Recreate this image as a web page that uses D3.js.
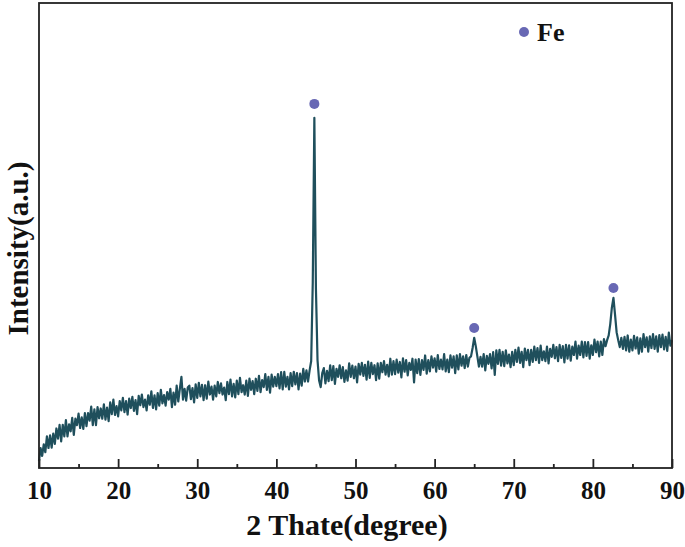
<!DOCTYPE html>
<html>
<head>
<meta charset="utf-8">
<script src="https://cdn.jsdelivr.net/npm/d3@7"></script>
<style>
  body { margin: 0; background: #fff; }
  text { font-family: "Liberation Serif", "Times New Roman", serif; font-weight: bold; fill: #111; }
</style>
</head>
<body>
<div id="chart"></div>
<script>
// XRD pattern, 2 theta from 10 to 90, step 0.2
const angleStart = 10, angleStep = 0.2;
const intensity = [
  15,43,26,51,34, 68,43,70,44,74, 52,85,63,93,57, 93,68,103,68,94, 79,108,71,106,92,
  117,86,109,84,118, 90,118,102,132,92, 126,92,131,107,128, 106,137,104,130,101, 141,116,147,114,133,
  111,144,124,151,120, 144,115,149,129,153, 123,146,116,155,135, 158,131,147,124,156, 136,165,129,156,126,
  161,134,168,139,157, 134,163,147,170,131, 162,136,177,143,170, 196,147,170,145,173, 177,148,172,141,180,
  151,183,154,179,146, 178,149,186,158,175, 147,177,154,185,161, 182,158,173,146,185, 159,190,154,181,152,
  188,159,194,163,178, 158,188,155,192,168, 187,159,192,166,198, 163,189,174,202,168, 196,162,201,175,196,
  176,202,171,206,169, 207,175,196,169,204, 176,207,180,204,169, 203,177,213,186,210, 186,210,230,400,753,
  385,232,188,174,204, 215,182,209,187,221, 189,219,181,213,196, 221,193,217,185,210, 188,225,196,220,193,
  218,184,224,201,226, 198,222,190,229,194, 226,202,221,189,225, 192,226,206,230,201, 222,197,235,201,230,
  202,233,205,228,195, 236,207,232,199,226, 211,235,184,233,204, 234,200,232,211,242, 203,232,208,240,216,
  236,207,243,213,233, 212,245,208,233,206, 242,216,240,204,242, 212,245,220,240,215, 243,218,237,240,258,
  280,262,240,218,239, 218,245,210,241,224, 245,214,249,200,253, 224,254,220,250,219, 253,225,244,217,250,
  221,254,228,259,226, 250,217,257,232,254, 221,254,228,261,232, 258,226,263,232,251, 230,261,225,256,239,
  265,236,260,230,265, 237,262,227,265,235, 264,231,261,243,272, 235,263,243,272,238, 271,241,271,235,264,
  243,276,249,272,240, 272,243,277,262,275, 285,310,345,366,330, 292,275,260,280,256, 282,253,285,250,276,
  253,284,257,281,246, 279,250,288,260,281, 250,283,258,288,256, 283,250,286,260,287, 255,282,252,291,263,
  275
];

// Fe peaks (marker positions)
const fePeakAngles = [44.8, 65.0, 82.6];
const fePeakMarks = [783, 301, 387];

const xTicks = [10, 20, 30, 40, 50, 60, 70, 80, 90];
const xMinorTicks = [15, 25, 35, 45, 55, 65, 75, 85];

const W = 685, H = 547;
const mL = 39, mR = 672, mT = 3, mB = 468;

const svg = d3.select('#chart').append('svg')
  .attr('width', W).attr('height', H);

const x = d3.scaleLinear().domain([10, 90]).range([mL, mR]);
const y = d3.scaleLinear().domain([0, 1000]).range([mB, mT]);

const data = intensity.map((v, i) => ({a: angleStart + i * angleStep, v: v}));

//선
const line = d3.line().x(d => x(d.a)).y(d => y(d.v));
svg.append('path')
  .datum(data)
  .attr('fill', 'none')
  .attr('stroke', '#1f4f5c')
  .attr('stroke-width', 2.2)
  .attr('stroke-linejoin', 'round')
  .attr('d', line);

// peak markers
svg.selectAll('circle.peak')
  .data(fePeakAngles)
  .enter().append('circle')
  .attr('class', 'peak')
  .attr('cx', d => x(d))
  .attr('cy', (d, i) => y(fePeakMarks[i]))
  .attr('r', 5)
  .attr('fill', '#6868b4');

// frame
svg.append('rect')
  .attr('x', mL).attr('y', mT)
  .attr('width', mR - mL).attr('height', mB - mT)
  .attr('fill', 'none').attr('stroke', '#222').attr('stroke-width', 1.8);

// x axis (ticks inward)
const xAxis = d3.axisBottom(x).tickValues(xTicks).tickSizeInner(-9).tickSizeOuter(0).tickPadding(13);
const gx = svg.append('g').attr('transform', `translate(0,${mB})`).call(xAxis);
gx.select('.domain').remove();
gx.selectAll('.tick line').attr('stroke', '#222').attr('stroke-width', 1.8);
gx.selectAll('.tick text').style('font-size', '25px').attr('fill', '#111');

const gxm = svg.append('g').attr('transform', `translate(0,${mB})`)
  .call(d3.axisBottom(x).tickValues(xMinorTicks).tickSizeInner(-4).tickSizeOuter(0).tickFormat(''));
gxm.select('.domain').remove();
gxm.selectAll('.tick line').attr('stroke', '#222').attr('stroke-width', 1.8);

// titles
svg.append('text')
  .attr('x', 347).attr('y', 535)
  .attr('text-anchor', 'middle')
  .style('font-size', '30px')
  .text('2 Thate(degree)');

svg.append('text')
  .attr('transform', `translate(28,${(mT + mB) / 2 + 13}) rotate(-90)`)
  .attr('text-anchor', 'middle')
  .style('font-size', '29px')
  .text('Intensity(a.u.)');

// legend
svg.append('circle').attr('cx', 524).attr('cy', 32).attr('r', 5).attr('fill', '#6868b4');
svg.append('text').attr('x', 537).attr('y', 41).style('font-size', '26px').text('Fe');
</script>
</body>
</html>
